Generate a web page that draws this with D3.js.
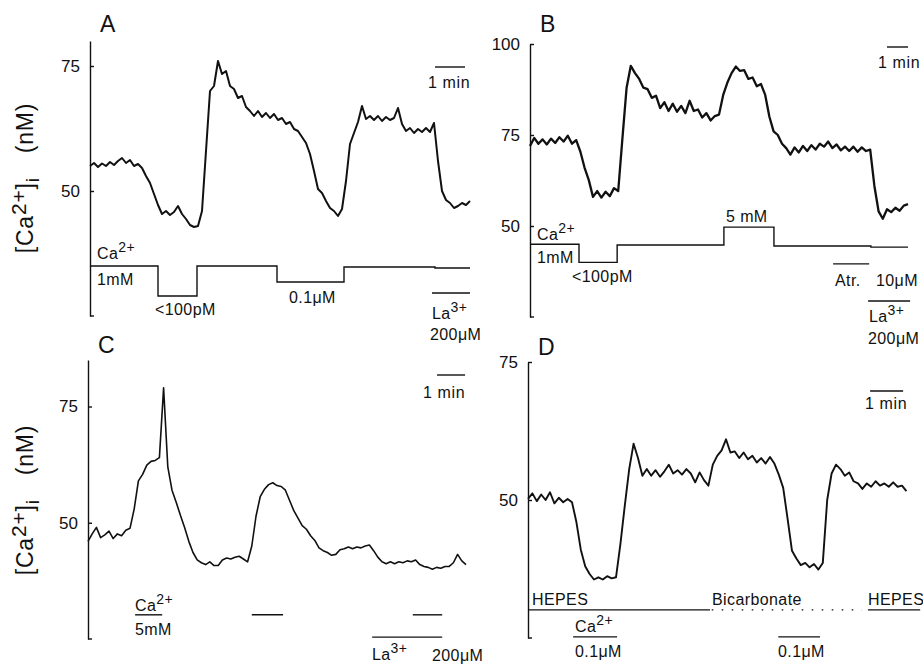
<!DOCTYPE html>
<html>
<head>
<meta charset="utf-8">
<script src="https://cdn.jsdelivr.net/npm/d3@7"></script>
<style>
  body { margin: 0; background: #fff; }
  text { font-family: "Liberation Sans", Arial, sans-serif; fill: #111; }
</style>
</head>
<body>
<div id="fig"></div>
<script>
// [Ca2+]i traces in nM, one value every dt seconds

// A: removal of external Ca2+ / La3+
const dtA = 8;
const caA = [55.0, 55.6, 54.8, 55.5, 55.0, 55.8, 55.2, 56.0, 56.6, 55.6, 56.2, 55.0, 55.4, 54.6, 53.0, 51.6,
  49.4, 47.2, 45.4, 46.0, 45.2, 45.8, 47.0, 45.4, 44.4, 43.2, 42.8, 43.0, 46.0, 58.0, 70.0, 71.0,
  76.0, 73.4, 74.0, 71.0, 70.4, 68.6, 69.0, 66.8, 66.0, 65.0, 66.0, 64.8, 65.6, 64.6, 65.4, 64.2,
  64.6, 63.4, 63.8, 62.4, 62.0, 60.8, 59.6, 57.4, 54.0, 50.4, 49.6, 48.0, 46.6, 46.0, 45.0, 46.4,
  52.0, 59.4, 61.6, 63.8, 67.0, 64.4, 65.0, 64.2, 65.0, 64.0, 64.8, 64.2, 64.6, 66.6, 63.4, 62.0,
  62.6, 61.6, 62.4, 61.8, 62.6, 61.8, 63.6, 56.0, 50.0, 48.2, 47.6, 46.6, 47.0, 47.6, 47.2, 48.0];
const stimA_t = [0, 136, 214, 374, 508, 690, 760];
const stimA_v = [35, 29, 35, 31.8, 34.8, 34.6, 34.6];

// B: Ca2+ steps, atropine, La3+
const dtB = 12;
const caB = [72.0, 74.2, 72.6, 73.8, 72.4, 74.0, 72.8, 74.4, 73.2, 74.8, 72.6, 73.6, 70.4, 66.0, 62.6, 58.0,
  59.6, 57.8, 59.4, 58.2, 60.4, 59.6, 74.0, 88.0, 94.0, 92.0, 90.4, 88.0, 87.6, 85.2, 85.8, 82.4,
  84.0, 81.6, 83.6, 81.4, 83.0, 81.0, 84.4, 81.6, 82.0, 79.8, 81.0, 79.0, 80.2, 80.6, 86.0, 89.4,
  92.0, 93.8, 92.6, 92.8, 90.4, 90.8, 88.4, 89.0, 86.0, 80.0, 76.0, 75.0, 72.6, 71.4, 69.6, 71.6,
  70.2, 72.0, 70.6, 72.2, 71.0, 72.6, 71.8, 73.2, 71.4, 72.4, 70.8, 71.8, 70.6, 71.8, 70.4, 71.6,
  70.6, 71.0, 61.0, 54.0, 52.0, 54.6, 53.8, 55.0, 54.2, 55.6, 56.0];
const stimB_t = [0, 140, 249, 554, 697, 974, 1080];
const stimB_v = [45, 40, 44.8, 49.7, 44.5, 44.2, 44.2];

// C: 5 mM Ca2+ pulses, La3+
const dtC = 9;
const caC = [46.0, 47.6, 49.0, 46.8, 47.4, 48.2, 46.6, 47.6, 47.2, 48.4, 48.8, 53.0, 59.0, 60.4, 62.4, 63.2,
  63.4, 64.0, 79.0, 62.0, 57.0, 54.4, 51.6, 49.0, 46.0, 43.6, 42.0, 41.4, 41.0, 41.6, 40.8, 40.8,
  42.0, 42.4, 42.2, 42.6, 42.8, 42.2, 41.6, 45.0, 51.4, 55.6, 57.2, 58.2, 58.6, 58.0, 57.8, 57.0,
  54.8, 52.6, 51.0, 49.4, 48.6, 47.2, 46.2, 44.6, 44.0, 43.6, 43.0, 43.2, 44.2, 44.4, 44.8, 44.4,
  44.8, 44.6, 45.0, 45.2, 44.0, 42.6, 41.6, 41.2, 41.6, 41.2, 41.6, 41.4, 41.8, 41.6, 42.0, 41.0,
  40.6, 40.4, 40.0, 40.4, 40.2, 40.6, 40.6, 41.4, 43.2, 41.8, 41.0];
const barsC = [[101, 159], [351, 418], [696, 759]];
const laC = [609, 759];

// D: HEPES vs bicarbonate buffer
const dtD = 8;
const caD = [50.2, 51.2, 49.8, 51.0, 50.0, 51.4, 49.4, 50.4, 49.6, 50.2, 49.6, 46.0, 41.0, 38.0, 36.6, 35.6,
  36.0, 35.6, 36.2, 35.8, 36.0, 42.0, 49.0, 55.6, 60.2, 57.6, 54.4, 55.6, 54.4, 55.4, 54.2, 55.2,
  56.4, 54.8, 55.4, 54.6, 55.6, 54.8, 53.2, 55.0, 53.6, 52.6, 56.4, 58.0, 59.0, 61.0, 58.6, 58.8,
  57.6, 58.6, 57.4, 58.0, 56.8, 57.6, 56.6, 57.8, 56.6, 54.6, 52.2, 46.6, 40.8, 39.4, 38.2, 38.6,
  37.8, 38.4, 37.4, 38.6, 50.0, 54.8, 56.4, 55.6, 54.4, 55.0, 53.4, 53.0, 52.0, 53.0, 52.4, 53.4,
  52.6, 53.0, 52.4, 53.2, 52.4, 52.6, 51.6];
const barsD = [[82, 162], [455, 531]];
const hepesD = [0, 331];
const bicarbD = [334, 607];
const hepes2D = [618, 713];

const width = 923, height = 667;
const svg = d3.select("#fig").append("svg")
  .attr("width", width)
  .attr("height", height);

const ink = "#111";

function makePanel(p) {
  const x = d3.scaleLinear().domain([0, (p.vals.length - 1) * p.dt]).range(p.xr);
  const y = d3.scaleLinear().domain(p.yd).range(p.yr);
  const g = svg.append("g");

  // axis, ticks pointing inward
  g.append("g")
    .attr("transform", `translate(${p.xr[0]},0)`)
    .call(d3.axisLeft(y).tickValues(p.ticks).tickSize(-4).tickSizeOuter(0).tickPadding(10))
    .call(a => a.selectAll("text").attr("font-size", 17))
    .call(a => a.selectAll("line,path").attr("stroke", ink).attr("stroke-width", 1.4));
  g.append("line")
    .attr("x1", p.xr[0]).attr("x2", p.xr[0] + 4)
    .attr("y1", y(p.yd[0])).attr("y2", y(p.yd[0]))
    .attr("stroke", ink).attr("stroke-width", 1.4);

  // trace
  g.append("path")
    .datum(p.vals)
    .attr("fill", "none")
    .attr("stroke", ink)
    .attr("stroke-width", p.sw)
    .attr("stroke-linejoin", "round")
    .attr("d", d3.line().x((d, i) => x(i * p.dt)).y(d => y(d)));

  // panel letter
  g.append("text").attr("x", p.letter[0]).attr("y", p.letter[1])
    .attr("font-size", 23).text(p.id);

  // 1 min scale bar
  g.append("line")
    .attr("x1", x(p.minBar)).attr("x2", x(p.minBar + 60))
    .attr("y1", p.minY).attr("y2", p.minY)
    .attr("stroke", ink).attr("stroke-width", 1.4);
  g.append("text").attr("x", p.minText[0]).attr("y", p.minText[1])
    .attr("font-size", 16).attr("letter-spacing", 0.6).text("1 min");

  return { x, y, g };
}

function seg(g, x, y, t0, t1, v, dash) {
  g.append("line")
    .attr("x1", x(t0)).attr("x2", x(t1))
    .attr("y1", y(v)).attr("y2", y(v))
    .attr("stroke", ink).attr("stroke-width", 1.4)
    .attr("stroke-dasharray", dash || null);
}

function steps(g, x, y, ts, vs) {
  g.append("path")
    .datum(ts.map((t, i) => [t, vs[i]]))
    .attr("fill", "none")
    .attr("stroke", ink)
    .attr("stroke-width", 1.4)
    .attr("d", d3.line().curve(d3.curveStepAfter).x(d => x(d[0])).y(d => y(d[1])));
}

function label(g, xp, yp, pre, sup, post) {
  const t = g.append("text").attr("x", xp).attr("y", yp).attr("font-size", 16).attr("letter-spacing", 0.4);
  t.append("tspan").text(pre);
  if (sup) t.append("tspan").attr("dy", -7).attr("font-size", 14).text(sup);
  if (post) t.append("tspan").attr("dy", 7).text(post);
}

function yLabel(cx, cy) {
  const t = svg.append("text")
    .attr("transform", `translate(${cx},${cy}) rotate(-90)`)
    .attr("text-anchor", "middle")
    .attr("dy", "0.35em")
    .attr("font-size", 23)
    .attr("letter-spacing", 0.8);
  t.append("tspan").text("[Ca");
  t.append("tspan").attr("dy", -7).attr("font-size", 21).text("2+");
  t.append("tspan").attr("dy", 7).text("]");
  t.append("tspan").attr("dy", 6).attr("font-size", 19).text("i");
  t.append("tspan").attr("dy", -6).attr("dx", 24).text("(nM)");
}

// ---- panel A ----
const A = makePanel({ id: "A", vals: caA, dt: dtA, xr: [90, 470], yd: [25, 80], yr: [316, 41], sw: 2,
  ticks: [50, 75], letter: [100, 32], minBar: 690, minY: 67, minText: [428, 88] });
steps(A.g, A.x, A.y, stimA_t, stimA_v);
seg(A.g, A.x, A.y, 684, 760, 29.6);
label(A.g, 97, 259, "Ca", "2+");
label(A.g, 97, 285, "1mM");
label(A.g, 155, 315, "<100pM");
label(A.g, 289, 303, "0.1μM");
label(A.g, 432, 319, "La", "3+");
label(A.g, 430, 340, "200μM");

// ---- panel B ----
const B = makePanel({ id: "B", vals: caB, dt: dtB, xr: [530, 908], yd: [25, 100], yr: [317, 44], sw: 2.3,
  ticks: [50, 75, 100], letter: [540, 32], minBar: 1020, minY: 47, minText: [878, 68] });
steps(B.g, B.x, B.y, stimB_t, stimB_v);
seg(B.g, B.x, B.y, 866, 969, 39.6);
seg(B.g, B.x, B.y, 966, 1086, 29.4);
label(B.g, 537, 240, "Ca", "2+");
label(B.g, 537, 263, "1mM");
label(B.g, 572, 282, "<100pM");
label(B.g, 726, 222, "5 mM");
label(B.g, 835, 286, "Atr.");
label(B.g, 876, 286, "10μM");
label(B.g, 869, 322, "La", "3+");
label(B.g, 868, 344, "200μM");

// ---- panel C ----
const C = makePanel({ id: "C", vals: caC, dt: dtC, xr: [88, 466], yd: [25, 85], yr: [639, 360], sw: 1.6,
  ticks: [50, 75], letter: [98, 353], minBar: 748, minY: 375, minText: [423, 398] });
barsC.forEach(b => seg(C.g, C.x, C.y, b[0], b[1], 30.2));
seg(C.g, C.x, C.y, laC[0], laC[1], 25.4);
label(C.g, 135, 611, "Ca", "2+");
label(C.g, 135, 635, "5mM");
label(C.g, 372, 660, "La", "3+");
label(C.g, 432, 661, "200μM");

// ---- panel D ----
const D = makePanel({ id: "D", vals: caD, dt: dtD, xr: [528, 906.4], yd: [25, 75], yr: [638, 362], sw: 1.9,
  ticks: [50, 75], letter: [538, 355], minBar: 622, minY: 391, minText: [865, 409] });
seg(D.g, D.x, D.y, hepesD[0], hepesD[1], 30.1);
seg(D.g, D.x, D.y, bicarbD[0], bicarbD[1], 30.1, "1.6,8.4");
seg(D.g, D.x, D.y, hepes2D[0], hepes2D[1], 30.1);
barsD.forEach(b => seg(D.g, D.x, D.y, b[0], b[1], 25.2));
label(D.g, 532, 605, "HEPES");
label(D.g, 712, 605, "Bicarbonate");
label(D.g, 868, 605, "HEPES");
label(D.g, 575, 632, "Ca", "2+");
label(D.g, 575, 657, "0.1μM");
label(D.g, 778, 657, "0.1μM");

// shared y labels on the left column
yLabel(25, 178);
yLabel(25, 500);
</script>
</body>
</html>
